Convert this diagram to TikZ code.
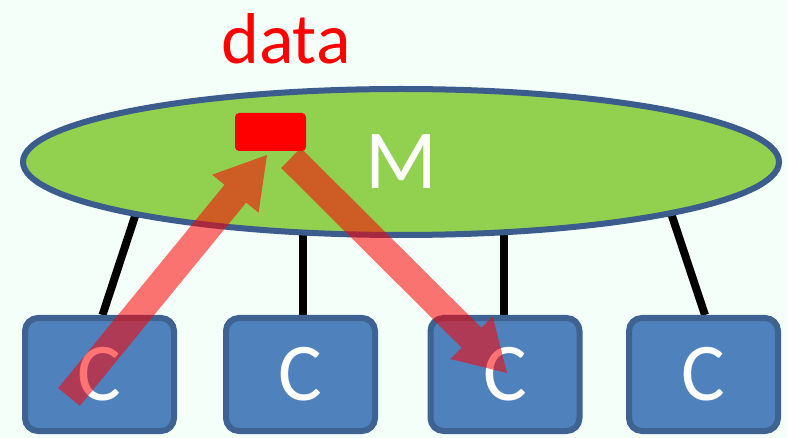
\documentclass[tikz,border=0pt]{standalone}
\usepackage{fontspec}
\setmainfont{Carlito}
\usetikzlibrary{shapes.geometric,calc}
\pgfdeclarelayer{bg}
\pgfsetlayers{bg,main}
\definecolor{bgc}{RGB}{245,255,250}
\definecolor{mgreen}{RGB}{146,208,80}
\definecolor{mborder}{RGB}{59,92,140}
\definecolor{cfill}{RGB}{79,129,189}
\definecolor{cborder}{RGB}{62,98,145}
\newcommand{\myfatarrow}[3]{%
  \coordinate (#3) at ($(#2)!50pt!(#1)$);
  \fill[flow] ($(#1)!14pt!90:(#2)$) -- ($(#3)!14pt!-90:(#1)$) -- ($(#3)!30pt!-90:(#1)$)
    -- (#2) -- ($(#3)!30pt!90:(#1)$) -- ($(#3)!14pt!90:(#1)$) -- ($(#1)!14pt!-90:(#2)$) -- cycle;}
\begin{document}
\begin{tikzpicture}[x=1pt,y=-1pt,
  cbox/.style={draw=cborder, line width=6pt, fill=cfill, rounded corners=13pt,
    minimum width=149pt, minimum height=113pt, inner sep=0pt, text=white,
    font=\fontsize{82}{82}\selectfont},
  link/.style={line width=8pt, black},
  flow/.style={fill=red, fill opacity=0.55, draw=none}]
\useasboundingbox (0,0) rectangle (787,438);
\begin{pgfonlayer}{bg}
  \fill[bgc] (0,0) rectangle (787,438);
\end{pgfonlayer}
% memory ellipse
\node[ellipse, draw=mborder, line width=6pt, fill=mgreen, minimum width=756pt,
  minimum height=146pt, inner sep=0pt, text=white, font=\fontsize{84}{84}\selectfont]
  (M) at (401,162) {M};
\node[fill=red, rounded corners=4pt, minimum width=71pt, minimum height=38pt, inner sep=0pt]
  (d) at (270.5,132) {};
\node[text=red, font=\fontsize{72}{72}\selectfont, inner sep=0pt] (lbl) at (286,39) {data};
% caches
\node[cbox] (c1) at (99.5,374.5) {C};
\node[cbox] (c2) at (300.5,374.5) {C};
\node[cbox] (c3) at (505,374.5) {C};
\node[cbox] (c4) at (703.5,374.5) {C};
% links
\coordinate (e1) at (142,195);
\coordinate (e2) at (303,200);
\coordinate (e3) at (504,200);
\coordinate (e4) at (665,195);
\begin{pgfonlayer}{bg}
  \draw[link] ([xshift=3pt]c1.north) -- (e1);
  \draw[link] ([xshift=2.5pt]c2.north) -- (e2);
  \draw[link] ([xshift=-1pt]c3.north) -- (e3);
  \draw[link] ([xshift=1.5pt]c4.north) -- (e4);
\end{pgfonlayer}
% data flow arrows
\coordinate (a1) at (69,397);
\coordinate (b1) at (267,155);
\coordinate (a2) at (291,158);
\coordinate (b2) at (507,373);
\myfatarrow{a1}{b1}{h1}
\myfatarrow{a2}{b2}{h2}
\end{tikzpicture}
\end{document}
